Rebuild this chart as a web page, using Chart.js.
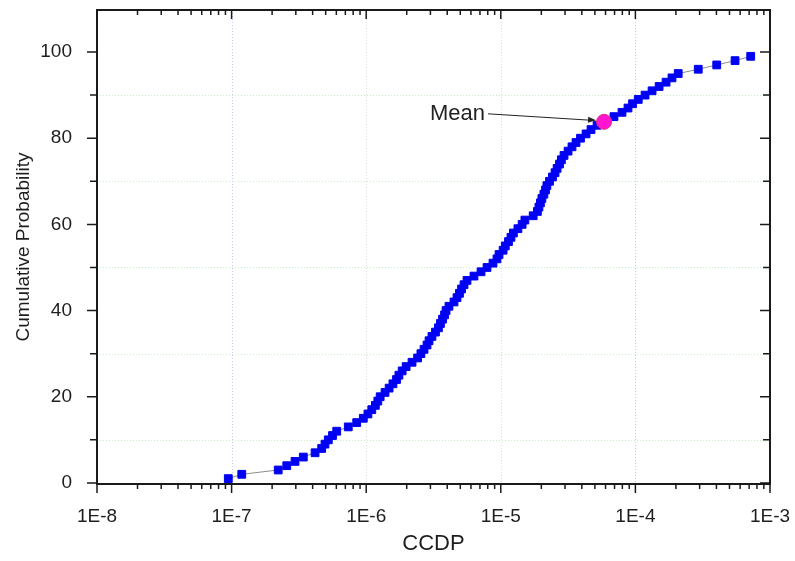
<!DOCTYPE html>
<html>
<head>
<meta charset="utf-8">
<script src="https://cdn.jsdelivr.net/npm/chart.js@4.4.1/dist/chart.umd.min.js"></script>
<style>
  html, body { margin: 0; padding: 0; background: #ffffff; }
  #c { display: block; }
</style>
</head>
<body>
<canvas id="c" width="795" height="561"></canvas>
<script>
// ---- data ----
const ccdp = [
  9.45e-8, 1.19e-7, 2.22e-7, 2.57e-7, 2.96e-7, 3.41e-7, 4.17e-7, 4.67e-7, 4.94e-7, 5.23e-7,
  5.62e-7, 6.04e-7, 7.36e-7, 8.50e-7, 9.52e-7, 1.03e-6, 1.10e-6, 1.17e-6, 1.22e-6, 1.27e-6,
  1.38e-6, 1.48e-6, 1.58e-6, 1.68e-6, 1.75e-6, 1.85e-6, 1.98e-6, 2.19e-6, 2.41e-6, 2.55e-6,
  2.69e-6, 2.83e-6, 2.93e-6, 3.08e-6, 3.27e-6, 3.44e-6, 3.56e-6, 3.69e-6, 3.82e-6, 3.92e-6,
  4.12e-6, 4.49e-6, 4.73e-6, 4.93e-6, 5.11e-6, 5.33e-6, 5.61e-6, 6.32e-6, 7.13e-6, 7.90e-6,
  8.75e-6, 9.37e-6, 9.70e-6, 1.04e-5, 1.08e-5, 1.14e-5, 1.19e-5, 1.24e-5, 1.34e-5, 1.44e-5,
  1.51e-5, 1.74e-5, 1.87e-5, 1.92e-5, 1.97e-5, 2.02e-5, 2.09e-5, 2.15e-5, 2.20e-5, 2.30e-5,
  2.42e-5, 2.53e-5, 2.62e-5, 2.73e-5, 2.82e-5, 2.95e-5, 3.16e-5, 3.38e-5, 3.62e-5, 3.91e-5,
  4.30e-5, 4.68e-5, 5.19e-5, 5.85e-5, 6.93e-5, 7.95e-5, 8.81e-5, 9.52e-5, 1.05e-4, 1.18e-4,
  1.33e-4, 1.50e-4, 1.69e-4, 1.87e-4, 2.08e-4, 2.93e-4, 4.02e-4, 5.50e-4, 7.19e-4
];
const cumProb = [
   1,  2,  3,  4,  5,  6,  7,  8,  9, 10,
  11, 12, 13, 14, 15, 16, 17, 18, 19, 20,
  21, 22, 23, 24, 25, 26, 27, 28, 29, 30,
  31, 32, 33, 34, 35, 36, 37, 38, 39, 40,
  41, 42, 43, 44, 45, 46, 47, 48, 49, 50,
  51, 52, 53, 54, 55, 56, 57, 58, 59, 60,
  61, 62, 63, 64, 65, 66, 67, 68, 69, 70,
  71, 72, 73, 74, 75, 76, 77, 78, 79, 80,
  81, 82, 83, 84, 85, 86, 87, 88, 89, 90,
  91, 92, 93, 94, 95, 96, 97, 98, 99
];
const meanCcdp = [5.85e-5];
const meanProb = [83.8];
const meanLabel = 'Mean';

const xTickValues = [1e-8, 1e-7, 1e-6, 1e-5, 1e-4, 1e-3];
const xTickLabels = ['1E-8', '1E-7', '1E-6', '1E-5', '1E-4', '1E-3'];
const yTickValues = [0, 20, 40, 60, 80, 100];
const yTickLabels = ['0', '20', '40', '60', '80', '100'];
const yMinorValues = [10, 30, 50, 70, 90];
const xTitle = 'CCDP';
const yTitle = 'Cumulative Probability';

// ---- decorations (grid, frame, ticks, annotation) ----
const FONT = "'Liberation Sans', Arial, sans-serif";
const decor = {
  id: 'decor',
  beforeDatasetsDraw(chart) {
    const { ctx, chartArea: a, scales: { x, y } } = chart;
    ctx.save();
    ctx.lineWidth = 1;
    ctx.setLineDash([1, 2]);
    ctx.strokeStyle = '#c6efc6';
    yMinorValues.forEach(v => {
      const py = Math.round(y.getPixelForValue(v)) + 0.5;
      ctx.beginPath(); ctx.moveTo(a.left, py); ctx.lineTo(a.right, py); ctx.stroke();
    });
    const cols = ['#c8c8f4', '#dcdcdc', '#dcdcdc', '#c8c8f4'];
    xTickValues.slice(1, 5).forEach((v, i) => {
      const px = Math.round(x.getPixelForValue(v)) + 0.5;
      ctx.strokeStyle = cols[i];
      ctx.beginPath(); ctx.moveTo(px, a.top); ctx.lineTo(px, a.bottom); ctx.stroke();
    });
    ctx.restore();
  },
  afterDraw(chart) {
    const { ctx, chartArea: a, scales: { x, y } } = chart;
    ctx.save();
    ctx.strokeStyle = '#1a1a1a';
    ctx.lineWidth = 2;
    ctx.strokeRect(a.left, a.top, a.width, a.height);
    ctx.lineWidth = 1.5;
    // x ticks: bottom outward, top inward
    for (let e = -8; e <= -4; e++) {
      for (let m = 1; m <= 9; m++) {
        const v = m * Math.pow(10, e);
        const px = x.getPixelForValue(v);
        const len = m === 1 ? 9 : 5;
        ctx.beginPath();
        ctx.moveTo(px, a.bottom); ctx.lineTo(px, a.bottom + len);
        ctx.moveTo(px, a.top); ctx.lineTo(px, a.top + len);
        ctx.stroke();
      }
    }
    {
      const px = x.getPixelForValue(1e-3);
      ctx.beginPath();
      ctx.moveTo(px, a.bottom); ctx.lineTo(px, a.bottom + 9);
      ctx.moveTo(px, a.top); ctx.lineTo(px, a.top + 9);
      ctx.stroke();
    }
    // y ticks: left outward, right inward
    const yAll = yTickValues.map(v => [v, 10]).concat(yMinorValues.map(v => [v, 7]));
    yAll.forEach(([v, len]) => {
      const py = y.getPixelForValue(v);
      ctx.beginPath();
      ctx.moveTo(a.left - len, py); ctx.lineTo(a.left, py);
      ctx.moveTo(a.right - len, py); ctx.lineTo(a.right, py);
      ctx.stroke();
    });
    // Mean annotation
    const mx = x.getPixelForValue(meanCcdp[0]);
    const my = y.getPixelForValue(meanProb[0]);
    const sx = mx - 116, sy = my - 8;
    const ex = mx - 8, ey = my - 1.5;
    ctx.strokeStyle = '#222';
    ctx.fillStyle = '#222';
    ctx.lineWidth = 1;
    ctx.beginPath(); ctx.moveTo(sx, sy); ctx.lineTo(ex - 4, ey); ctx.stroke();
    const ang = Math.atan2(ey - sy, ex - sx);
    ctx.beginPath();
    ctx.moveTo(ex, ey);
    ctx.lineTo(ex - 8 * Math.cos(ang) + 3 * Math.sin(ang), ey - 8 * Math.sin(ang) - 3 * Math.cos(ang));
    ctx.lineTo(ex - 8 * Math.cos(ang) - 3 * Math.sin(ang), ey - 8 * Math.sin(ang) + 3 * Math.cos(ang));
    ctx.closePath(); ctx.fill();
    ctx.font = '22px ' + FONT;
    ctx.textAlign = 'right';
    ctx.textBaseline = 'middle';
    ctx.fillText(meanLabel, sx - 3, sy);
    ctx.restore();
  }
};

const points = ccdp.map((v, i) => ({ x: v, y: cumProb[i] }));
const meanPts = meanCcdp.map((v, i) => ({ x: v, y: meanProb[i] }));

new Chart(document.getElementById('c'), {
  type: 'scatter',
  data: {
    datasets: [
      {
        label: 'Mean',
        data: meanPts,
        pointStyle: 'circle',
        pointRadius: 7.5,
        pointBackgroundColor: '#ff14d2',
        pointBorderColor: '#e0307a',
        pointBorderWidth: 1,
        showLine: false
      },
      {
        label: 'CDF',
        data: points,
        showLine: true,
        borderColor: '#8c8c8c',
        borderWidth: 1,
        pointStyle: 'rect',
        pointRadius: 5.5,
        pointBackgroundColor: '#0000f2',
        pointBorderColor: '#0000f2',
        pointBorderWidth: 1
      }
    ]
  },
  options: {
    responsive: false,
    animation: false,
    devicePixelRatio: 1,
    layout: { padding: { top: 10, right: 25, left: 0, bottom: 0 } },
    plugins: { legend: { display: false }, tooltip: { enabled: false } },
    scales: {
      x: {
        type: 'logarithmic',
        position: 'bottom',
        min: 1e-8,
        max: 1e-3,
        grid: { display: false },
        border: { display: false },
        afterBuildTicks: s => { s.ticks = xTickValues.map(v => ({ value: v })); },
        afterFit: s => { s.height = 77; s.paddingLeft = 0; s.paddingRight = 0; },
        ticks: {
          autoSkip: false, maxRotation: 0, minRotation: 0,
          padding: 13,
          color: '#1e1e1e',
          font: { family: FONT, size: 19 },
          callback: (v, i) => xTickLabels[i]
        },
        title: {
          display: true, text: xTitle, color: '#1e1e1e',
          font: { family: FONT, size: 22 },
          padding: { top: 0, bottom: 4 }
        }
      },
      y: {
        type: 'linear',
        min: -0.25,
        max: 109.75,
        grid: { display: false },
        border: { display: false },
        afterBuildTicks: s => { s.ticks = yTickValues.map(v => ({ value: v })); },
        afterFit: s => { s.width = 97; s.paddingTop = 0; s.paddingBottom = 0; },
        ticks: {
          autoSkip: false,
          padding: 17,
          color: '#1e1e1e',
          font: { family: FONT, size: 19 },
          callback: (v, i) => yTickLabels[i]
        },
        title: {
          display: true, text: yTitle, color: '#1e1e1e',
          font: { family: FONT, size: 19 },
          padding: { top: 12, bottom: 0 }
        }
      }
    }
  },
  plugins: [decor]
});
</script>
</body>
</html>
